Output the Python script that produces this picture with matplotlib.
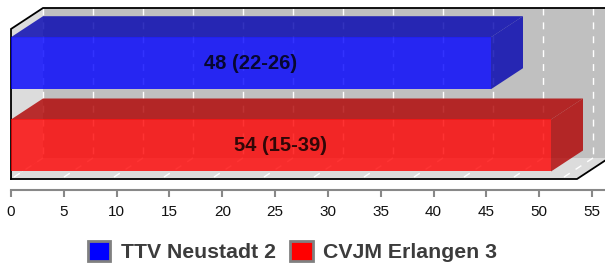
import matplotlib
matplotlib.use("Agg")
import matplotlib.pyplot as plt
from matplotlib.patches import Polygon, Rectangle, Patch

plt.rcParams['font.family'] = ['Liberation Sans', 'DejaVu Sans']

# ---- data ----
teams = ["TTV Neustadt 2", "CVJM Erlangen 3"]
values = [48, 54]
labels = ["48 (22-26)", "54 (15-39)"]
front_colors = ["#0000ff", "#ff0000"]
dark_colors = ["#0000b0", "#b00000"]
xticks = list(range(0, 56, 5))
x_max = 56.6

# ---- layout (pixel based) ----
W, H = 605, 266
fig = plt.figure(figsize=(W / 100, H / 100), dpi=100)
ax = fig.add_axes([0, 0, 1, 1])
px_per_unit = 10.0
x0_px = 11
cat_px0 = 63.2
cat_px = 82.3
ax.set_xlim(-x0_px / px_per_unit, (W - x0_px) / px_per_unit)
ax.set_ylim((H - cat_px0) / cat_px, -cat_px0 / cat_px)
ax.axis('off')

dx = 32 / px_per_unit
dy = -21 / cat_px
top = (29 - cat_px0) / cat_px
bottom = (179 - cat_px0) / cat_px
half = 26 / cat_px

# back wall
ax.add_patch(Rectangle((dx, top + dy), x_max, bottom - top, facecolor="#c0c0c0",
                       edgecolor="none", zorder=1))
# left wall
ax.add_patch(Polygon([(0, top), (dx, top + dy), (dx, bottom + dy), (0, bottom)],
                     closed=True, facecolor="#dcdcdc", edgecolor="none", zorder=1))
# floor
ax.add_patch(Polygon([(0, bottom), (x_max, bottom), (x_max + dx, bottom + dy), (dx, bottom + dy)],
                     closed=True, facecolor="#dcdcdc", edgecolor="none", zorder=1))
# grid
for v in xticks:
    ax.plot([v + dx, v + dx], [top + dy, bottom + dy], color="white", lw=1,
            ls=(0, (5, 5)), zorder=2)
    ax.plot([v + dx, v], [bottom + dy, bottom], color="white", lw=1,
            ls=(0, (5, 5)), zorder=2)
# frame lines
ax.plot([0, 0, dx, x_max + dx + 5], [bottom, top, top + dy, top + dy], color="black",
        lw=1.3, zorder=3, solid_joinstyle='miter')
ax.plot([0, x_max, x_max + dx], [bottom, bottom, bottom + dy], color="black",
        lw=1.3, zorder=3, solid_joinstyle='miter')

# bars
for i, (v, fc, dc, lab) in enumerate(zip(values, front_colors, dark_colors, labels)):
    y0, y1 = i - half, i + half
    ax.add_patch(Polygon([(0, y0), (v, y0), (v + dx, y0 + dy), (dx, y0 + dy)], closed=True,
                         facecolor=dc, alpha=0.8, edgecolor="none", zorder=4))
    ax.add_patch(Polygon([(v, y0), (v + dx, y0 + dy), (v + dx, y1 + dy), (v, y1)], closed=True,
                         facecolor=dc, alpha=0.8, edgecolor="none", zorder=4))
    ax.add_patch(Rectangle((0, y0), v, y1 - y0, facecolor=fc, alpha=0.8,
                           edgecolor="none", zorder=5))
    ax.text(v / 2, i, lab, ha="center", va="center", fontsize=14.5, fontweight="bold",
            color="black", alpha=0.8, zorder=6)

# value axis
axx = fig.add_axes([x0_px / W, (H - 190) / H, (609 - x0_px) / W, 0.001])
axx.set_xlim(0, x_max)
axx.set_xticks(xticks)
axx.set_yticks([])
axx.patch.set_visible(False)
for s in ["top", "left", "right"]:
    axx.spines[s].set_visible(False)
axx.spines["bottom"].set_color("#888888")
axx.spines["bottom"].set_linewidth(1.5)
axx.tick_params(axis="x", direction="out", length=5, width=1.5, color="#888888",
                labelsize=11, labelcolor="#111111", pad=6)

# legend
handles = [Patch(facecolor=c, edgecolor="#808080", linewidth=2) for c in front_colors]
leg = fig.legend(handles, teams, loc="center", bbox_to_anchor=(0.4835, 0.053), ncol=2,
                 frameon=False, handlelength=1.05, handleheight=1.05, handletextpad=0.5,
                 columnspacing=0.7, borderaxespad=0,
                 prop={"size": 15.3, "weight": "bold"})
for t in leg.get_texts():
    t.set_color("#3c3c3c")

fig.savefig("out.png", dpi=100)
